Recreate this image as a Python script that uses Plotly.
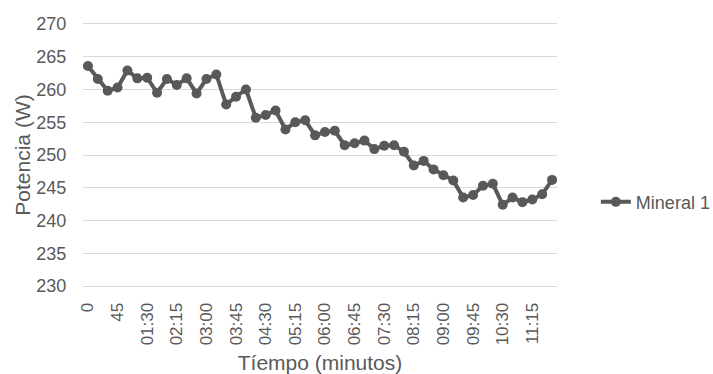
import plotly.graph_objects as go

# Time stamps every 15 s (mm:ss after the first minute)
tiempo = ["0", "15", "30", "45"] + [
    f"{m:02d}:{s:02d}" for m in range(1, 12) for s in (0, 15, 30, 45)
]

# Measured power (W) for "Mineral 1"
potencia = [
    263.6, 261.6, 259.8, 260.3, 262.9, 261.7, 261.8, 259.5, 261.6, 260.7,
    261.7, 259.4, 261.6, 262.3, 257.7, 258.9, 260.0, 255.7, 256.1, 256.8,
    253.9, 255.0, 255.3, 253.0, 253.5, 253.7, 251.5, 251.8, 252.2, 250.9,
    251.4, 251.5, 250.5, 248.4, 249.1, 247.8, 246.9, 246.1, 243.5, 243.9,
    245.3, 245.6, 242.4, 243.5, 242.8, 243.2, 244.0, 246.2,
]

tick_labels = tiempo[::3]

grey = "#595959"
grid = "#d9d9d9"
font_family = "Liberation Sans, Arial, sans-serif"

fig = go.Figure()
fig.add_trace(
    go.Scatter(
        x=tiempo,
        y=potencia,
        mode="lines+markers",
        name="Mineral 1",
        line=dict(color=grey, width=4),
        marker=dict(color=grey, size=10),
    )
)

fig.update_layout(
    width=713,
    height=374,
    margin=dict(l=83, r=156, t=24, b=88, autoexpand=False),
    paper_bgcolor="white",
    plot_bgcolor="white",
    font=dict(family=font_family, size=18, color=grey),
    showlegend=True,
    legend=dict(
        x=1.082,
        y=0.32,
        xanchor="left",
        yanchor="middle",
        font=dict(size=18, color=grey),
        bgcolor="rgba(0,0,0,0)",
    ),
    xaxis=dict(
        type="category",
        range=[-0.5, len(tiempo) - 0.5],
        tickmode="array",
        tickvals=tick_labels,
        ticktext=tick_labels,
        tickangle=-90,
        showgrid=False,
        showline=True,
        linecolor=grid,
        linewidth=1,
        mirror=True,
        zeroline=False,
        ticks="outside",
        ticklen=9,
        tickcolor="rgba(0,0,0,0)",
        tickfont=dict(size=17, color=grey),
        title=dict(text="Tíempo (minutos)", font=dict(size=21, color=grey), standoff=11),
        automargin=False,
    ),
    yaxis=dict(
        range=[230, 270],
        tickmode="linear",
        tick0=230,
        dtick=5,
        showgrid=True,
        gridcolor=grid,
        gridwidth=1,
        zeroline=False,
        showline=False,
        ticks="outside",
        ticklen=12,
        tickcolor="rgba(0,0,0,0)",
        tickfont=dict(size=18, color=grey),
        title=dict(text="Potencia (W)", font=dict(size=21, color=grey), standoff=0),
        automargin=False,
    ),
)

fig.write_html("out.html")
